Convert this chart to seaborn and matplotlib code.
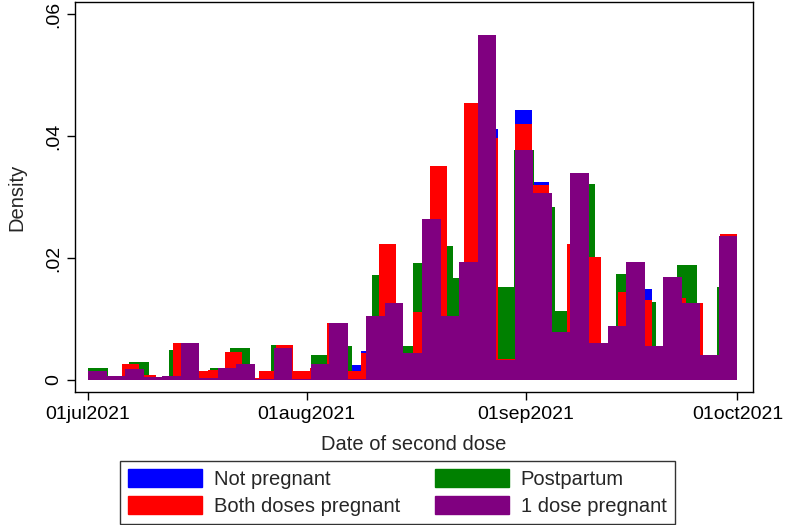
import numpy as np
import pandas as pd
import matplotlib
matplotlib.use("Agg")
import matplotlib.pyplot as plt
from matplotlib.patches import Patch
import seaborn as sns

# Histogram densities, one value per bin.
# All four series span 01jul2021 - 01oct2021 but use their own number of bins.
start = pd.Timestamp("2021-07-01")
end = pd.Timestamp("2021-10-01")

not_pregnant = [0.0009, 0.0004, 0.0026, 0.0008, 0.0002, 0.0059, 0.0013, 0.0016,
                0.0044, 0.0002, 0.0014, 0.0056, 0.0014, 0.0019, 0.0091, 0.0025,
                0.0047, 0.0215, 0.0034, 0.0108, 0.0340, 0.0087, 0.0440, 0.0411,
                0.0033, 0.0443, 0.0325, 0.0058, 0.0216, 0.0195, 0.0048, 0.0140,
                0.0149, 0.0039, 0.0131, 0.0122, 0.0029, 0.0232]

postpartum = [0.0019, 0.0005, 0.0030, 0.0004, 0.0050, 0.0010, 0.0019, 0.0053,
              0.0002, 0.0058, 0.0010, 0.0041, 0.0056, 0.0010, 0.0173, 0.0056,
              0.0192, 0.0219, 0.0168, 0.0300, 0.0153, 0.0378, 0.0283, 0.0113,
              0.0321, 0.0050, 0.0174, 0.0128, 0.0040, 0.0189, 0.0035, 0.0153]

both_doses = [0.0010, 0.0005, 0.0027, 0.0009, 0.0003, 0.0061, 0.0014, 0.0017,
              0.0046, 0.0003, 0.0015, 0.0058, 0.0015, 0.0020, 0.0094, 0.0014,
              0.0045, 0.0223, 0.0035, 0.0111, 0.0351, 0.0090, 0.0455, 0.0397,
              0.0034, 0.0420, 0.0320, 0.0060, 0.0223, 0.0201, 0.0050, 0.0145,
              0.0132, 0.0040, 0.0135, 0.0126, 0.0030, 0.0239]

one_dose = [0.0014, 0.0006, 0.0018, 0.0005, 0.0006, 0.0061, 0.0003, 0.0020,
            0.0026, 0.0002, 0.0052, 0.0002, 0.0027, 0.0094, 0.0002, 0.0105,
            0.0127, 0.0044, 0.0264, 0.0105, 0.0194, 0.0566, 0.0032, 0.0377,
            0.0307, 0.0078, 0.0339, 0.0060, 0.0089, 0.0194, 0.0055, 0.0169,
            0.0127, 0.0041, 0.0236]

labels = ["Not pregnant", "Postpartum", "Both doses pregnant", "1 dose pregnant"]
colors = ["#0000ff", "#008000", "#ff0000", "#800080"]
series = [not_pregnant, postpartum, both_doses, one_dose]

tick_dates = ["2021-07-01", "2021-08-01", "2021-09-01", "2021-10-01"]
tick_labels = ["01jul2021", "01aug2021", "01sep2021", "01oct2021"]
yticks = [0, 0.02, 0.04, 0.06]
ytick_labels = ["0", ".02", ".04", ".06"]

sns.set_theme(style="ticks")
plt.rcParams["font.family"] = ["Liberation Sans", "DejaVu Sans"]

span = (end - start).days
fig = plt.figure(figsize=(7.9, 5.25), dpi=100)
ax = fig.add_axes([0.0949, 0.2533, 0.8582, 0.7429])

# draw in Stata order: first series at the back
for vals, col in zip(series, colors):
    edges = np.linspace(0, span, len(vals) + 1)
    df = pd.DataFrame({"day": (edges[:-1] + edges[1:]) / 2, "density": vals})
    sns.histplot(data=df, x="day", weights="density", bins=list(edges), stat="count",
                 color=col, alpha=1, linewidth=0, edgecolor=col, ax=ax)

ax.set_xlim(-1.84, 94.2)
ax.set_ylim(-0.00197, 0.062)
ax.set_xticks([(pd.Timestamp(d) - start).days for d in tick_dates])
ax.set_xticklabels(tick_labels)
ax.set_yticks(yticks)
ax.set_yticklabels(ytick_labels, rotation=90, va="center")
ax.tick_params(direction="out", length=6, width=1, labelsize=14, colors="black", pad=4)
ax.tick_params(axis="y", pad=3)
ax.set_xlabel("Date of second dose", fontsize=14.5, labelpad=9)
ax.set_ylabel("Density", fontsize=14.5, labelpad=14)
for s in ax.spines.values():
    s.set_visible(True)
    s.set_color("black")
    s.set_linewidth(1.0)

handles = [Patch(facecolor=c, edgecolor=c) for c in colors]
# matplotlib fills legend columns first, so reorder to get Stata's row layout
order = [0, 2, 1, 3]
leg = fig.legend([handles[i] for i in order], [labels[i] for i in order],
                 ncol=2, loc="center", bbox_to_anchor=(0.503, 0.062),
                 fontsize=14.5, frameon=True, fancybox=False, edgecolor="black",
                 handlelength=3.68, handleheight=0.99, columnspacing=1.7,
                 handletextpad=0.6, labelspacing=0.36, borderpad=0.4,
                 borderaxespad=0)
leg.get_frame().set_linewidth(1.0)

fig.savefig("out.png", dpi=100)
